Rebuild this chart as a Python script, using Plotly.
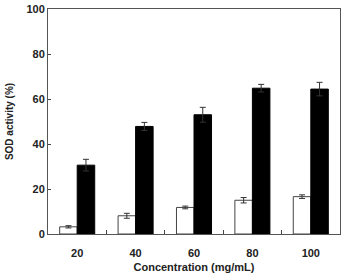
import plotly.graph_objects as go

categories = ["20", "40", "60", "80", "100"]
white_vals = [3.2, 8.1, 11.8, 15.0, 16.6]
white_err = [0.5, 1.1, 0.6, 1.2, 0.8]
black_vals = [30.6, 47.8, 53.0, 64.8, 64.4]
black_err = [2.6, 1.8, 3.3, 1.7, 3.0]
y_ticks = [0, 20, 40, 60, 80, 100]

font_family = "Arial, Liberation Sans, sans-serif"

fig = go.Figure()
fig.add_trace(go.Bar(
    x=categories, y=white_vals,
    error_y=dict(type="data", array=white_err, color="#333", thickness=1, width=3),
    marker=dict(color="white", line=dict(color="#444", width=1)),
))
fig.add_trace(go.Bar(
    x=categories, y=black_vals,
    error_y=dict(type="data", array=black_err, color="#333", thickness=1, width=3),
    marker=dict(color="black", line=dict(color="black", width=1)),
))

fig.update_layout(
    width=341, height=273,
    margin=dict(l=48, r=1, t=9, b=39, autoexpand=False),
    barmode="group", bargap=0.4, bargroupgap=0,
    showlegend=False,
    plot_bgcolor="white", paper_bgcolor="white",
    font=dict(family=font_family, size=11, color="#222"),
)
fig.update_xaxes(
    type="category", automargin=False,
    tickson="boundaries", ticks="inside", ticklen=4, tickcolor="#444",
    ticklabelstandoff=9,
    showline=True, linecolor="#555", linewidth=1, mirror=True,
    showgrid=False,
    tickfont=dict(family=font_family, size=11, color="#222", weight="bold"),
    title=dict(text="Concentration (mg/mL)", standoff=8,
               font=dict(family=font_family, size=11, color="#222", weight="bold")),
)
fig.update_yaxes(
    range=[0, 100], tickvals=y_ticks, automargin=False,
    ticks="inside", ticklen=3, tickcolor="#444",
    showline=True, linecolor="#555", linewidth=1, mirror=True,
    showgrid=False, zeroline=False,
    tickfont=dict(family=font_family, size=11, color="#222", weight="bold"),
    title=dict(text="SOD activity (%)", standoff=10,
               font=dict(family=font_family, size=10, color="#222", weight="bold")),
)

fig.write_html("out.html")
